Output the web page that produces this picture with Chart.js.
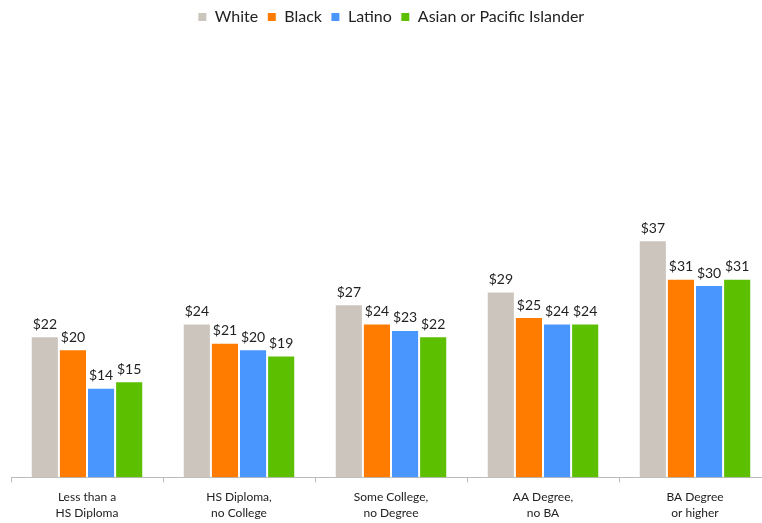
<!DOCTYPE html>
<html lang="en">
<head>
<meta charset="UTF-8">
<title>Hourly wages by education and race</title>
<script src="https://cdn.jsdelivr.net/npm/chart.js"></script>
<style>
  html, body { margin: 0; padding: 0; background: #fff; overflow: hidden; }
  .wrap { width: 772px; height: 532px; }
</style>
</head>
<body>
<div class="wrap"><canvas id="grafico_salarios"></canvas></div>

<script>
// categorias e valores por grupo
var categorias = [
    ['Less than a', 'HS Diploma'],
    ['HS Diploma,', 'no College'],
    ['Some College,', 'no Degree'],
    ['AA Degree,', 'no BA'],
    ['BA Degree', 'or higher']
];
var grupos = ['White', 'Black', 'Latino', 'Asian or Pacific Islander'];
var white  = [22, 24, 27, 29, 37];
var black  = [20, 21, 24, 25, 31];
var latino = [14, 20, 23, 24, 30];
var asian  = [15, 19, 22, 24, 31];
var cores = ['#CCC5BD', '#FF7C00', '#4A96FF', '#5CC000'];

var fonte = 'Lato, "Open Sans", sans-serif';

// escreve o valor em cima de cada barra
var rotulosValor = {
    id: 'rotulosValor',
    afterDatasetsDraw: function(chart) {
        var ctx = chart.ctx;
        ctx.save();
        ctx.font = '14px ' + fonte;
        ctx.fillStyle = '#222';
        ctx.textAlign = 'center';
        ctx.textBaseline = 'bottom';
        chart.data.datasets.forEach(function(ds, i) {
            chart.getDatasetMeta(i).data.forEach(function(bar, j) {
                ctx.fillText('$' + ds.data[j], bar.x, bar.y - 5);
            });
        });
        ctx.restore();
    }
};

var series = [white, black, latino, asian];

var config = {
    type: 'bar',
    data: {
        labels: categorias,
        datasets: series.map(function(valores, i) {
            return {
                label: grupos[i],
                data: valores,
                backgroundColor: cores[i],
                borderColor: '#fff',
                borderWidth: 1,
                barPercentage: 1.0,
                categoryPercentage: 0.74
            };
        })
    },
    options: {
        responsive: true,
        maintainAspectRatio: false,
        animation: false,
        layout: { padding: { left: 11, right: 1, top: 0, bottom: 4 } },
        plugins: {
            legend: {
                position: 'top',
                labels: {
                    font: { family: fonte, size: 16 },
                    color: '#222',
                    boxWidth: 9,
                    boxHeight: 9,
                    padding: 9
                }
            },
            tooltip: { enabled: false }
        },
        scales: {
            x: {
                grid: {
                    drawOnChartArea: false,
                    color: '#BBB',
                    tickLength: 5
                },
                border: { color: '#BBB' },
                ticks: {
                    font: { family: fonte, size: 12, lineHeight: 1.4 },
                    color: '#222',
                    padding: 6
                }
            },
            y: {
                display: false,
                min: 0,
                max: 69
            }
        }
    },
    plugins: [rotulosValor]
};

new Chart(document.getElementById('grafico_salarios').getContext('2d'), config);
</script>
</body>
</html>
